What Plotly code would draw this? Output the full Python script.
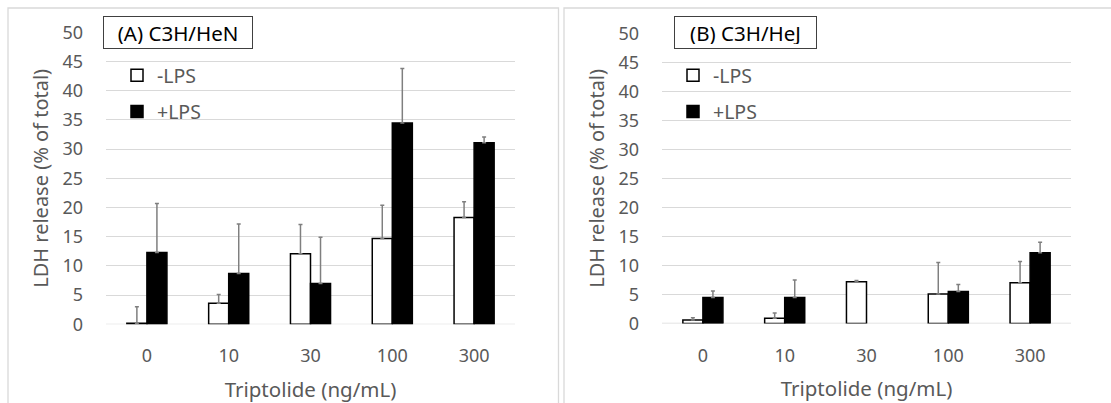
import plotly.graph_objects as go

# Triptolide doses (ng/mL)
doses = ["0", "10", "30", "100", "300"]

# (A) C3H/HeN - LDH release (% of total), mean and upper error
a_minus = [0.2, 3.6, 12.1, 14.7, 18.3]
a_minus_err = [2.8, 1.5, 5.0, 5.7, 2.7]
a_plus = [12.3, 8.7, 7.0, 34.5, 31.1]
a_plus_err = [8.4, 8.5, 7.9, 9.3, 1.0]

# (B) C3H/HeJ
b_minus = [0.6, 0.9, 7.2, 5.1, 7.0]
b_minus_err = [0.4, 0.9, 0.2, 5.4, 3.7]
b_plus = [4.5, 4.5, None, 5.5, 12.2]
b_plus_err = [1.1, 3.0, 0.0, 1.2, 1.8]

y_ticks = list(range(0, 55, 5))

W, H = 1111, 403
TXT = "#595959"
GRID = "#d9d9d9"
FONT = "Noto Sans"


def px(x):
    return x / W


def py(y):
    return 1 - y / H


def bar(name, y, err, filled, xaxis, yaxis, legend, group):
    return go.Bar(
        x=doses, y=y, name=name,
        marker=dict(color="black" if filled else "white",
                    line=dict(color="black", width=1.5)),
        error_y=dict(type="data", symmetric=False, array=err,
                     arrayminus=[0] * len(err), color="#7f7f7f",
                     thickness=1.5, width=2),
        xaxis=xaxis, yaxis=yaxis, legend=legend, legendgroup=group,
    )


fig = go.Figure()
fig.add_trace(bar("-LPS", a_minus, a_minus_err, False, "x", "y", "legend", "a1"))
fig.add_trace(bar("+LPS", a_plus, a_plus_err, True, "x", "y", "legend", "a2"))
fig.add_trace(bar("-LPS", b_minus, b_minus_err, False, "x2", "y2", "legend2", "b1"))
fig.add_trace(bar("+LPS", b_plus, b_plus_err, True, "x2", "y2", "legend2", "b2"))

xaxis_common = dict(
    type="category", showgrid=False, zeroline=False, showline=False,
    automargin=False,
    ticks="", tickfont=dict(size=18, color=TXT, family=FONT),
    ticklabelstandoff=19,
    title=dict(text="Triptolide (ng/mL)", font=dict(size=20.5, color=TXT, family=FONT),
               standoff=16),
)
yaxis_common = dict(
    range=[0, 50], tickvals=y_ticks, showgrid=True, gridcolor=GRID, gridwidth=1.3,
    zeroline=False, showline=False, ticks="", automargin=False,
    tickfont=dict(size=18, color=TXT, family=FONT), ticklabelstandoff=22,
    title=dict(text="LDH release (% of total)", font=dict(size=20, color=TXT, family=FONT),
               standoff=8),
)

legend_common = dict(
    xanchor="left", yanchor="top", bgcolor="rgba(0,0,0,0)",
    font=dict(size=19.5, color=TXT, family=FONT), tracegroupgap=8,
    itemclick=False, itemdoubleclick=False,
)

fig.update_layout(
    width=W, height=H,
    margin=dict(l=0, r=0, t=0, b=0, autoexpand=False),
    paper_bgcolor="white", plot_bgcolor="white",
    barmode="group", bargap=0.51, bargroupgap=0,
    font=dict(family=FONT, color=TXT),
    xaxis=dict(domain=[px(106), px(515)], anchor="y", **xaxis_common),
    yaxis=dict(domain=[py(324.3), py(32.4)], anchor="x", **yaxis_common),
    xaxis2=dict(domain=[px(662), px(1071)], anchor="y2", **xaxis_common),
    yaxis2=dict(domain=[py(323.5), py(33.3)], anchor="x2", **yaxis_common),
    legend=dict(x=px(117), y=py(56), **legend_common),
    legend2=dict(x=px(673), y=py(56), **legend_common),
    shapes=[
        # baselines at zero
        dict(type="line", xref="x domain", yref="y", x0=0, x1=1, y0=0, y1=0,
             line=dict(color=GRID, width=1.3), layer="below"),
        dict(type="line", xref="x2 domain", yref="y2", x0=0, x1=1, y0=0, y1=0,
             line=dict(color=GRID, width=1.3), layer="below"),
        # panel frames
        dict(type="rect", xref="paper", yref="paper", x0=px(8), x1=px(558.5),
             y0=-0.1, y1=py(8), line=dict(color=GRID, width=1.3)),
        dict(type="rect", xref="paper", yref="paper", x0=px(564), x1=1.1,
             y0=-0.1, y1=py(8), line=dict(color=GRID, width=1.3)),
    ],
    annotations=[
        dict(text="(A) C3H/HeN", xref="paper", yref="paper", x=px(178), y=py(32.5),
             xanchor="center", yanchor="middle", showarrow=False,
             font=dict(size=20.5, color="black", family=FONT),
             width=140, height=23, borderpad=4, bordercolor="#404040",
             borderwidth=1, bgcolor="white"),
        dict(text="(B) C3H/HeJ", xref="paper", yref="paper", x=px(745), y=py(32.5),
             xanchor="center", yanchor="middle", showarrow=False,
             font=dict(size=20.5, color="black", family=FONT),
             width=133, height=23, borderpad=4, bordercolor="#404040",
             borderwidth=1, bgcolor="white"),
    ],
)

fig.write_html("out.html")
